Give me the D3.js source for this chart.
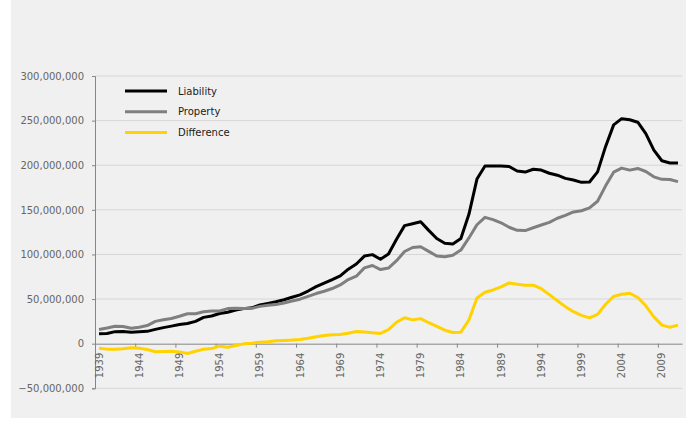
<!DOCTYPE html>
<html>
<head>
<meta charset="utf-8">
<script src="https://cdn.jsdelivr.net/npm/d3@7/dist/d3.min.js"></script>
<style>
  html, body { margin: 0; padding: 0; background: #ffffff; }
  svg { display: block; }
  text { font-family: "DejaVu Sans", Verdana, sans-serif; }
</style>
</head>
<body>
<svg id="chart" width="697" height="441"></svg>
<script>
// Annual totals, in millions
const years = d3.range(1939, 2012);

const liability = [
  11.0, 11.5, 13.5, 13.6, 12.8, 13.4, 13.8, 16.0, 18.0, 19.7,
  21.5, 22.6, 25.0, 29.5, 31.0, 33.8, 35.3, 37.8, 39.3, 40.2,
  43.5, 45.2, 47.0, 49.3, 52.0, 54.7, 59.0, 64.0, 68.0, 71.8,
  76.0, 83.5, 89.3, 98.2, 99.8, 94.6, 100.5, 117.0, 132.3, 134.5,
  136.7, 127.0, 117.8, 112.6, 111.8, 117.8, 145.0, 184.5, 199.2, 199.2,
  199.2, 198.6, 193.5, 192.3, 195.5, 194.6, 191.0, 188.8, 185.3, 183.4,
  180.8, 181.2, 192.5, 221.1, 245.2, 252.2, 251.0, 248.2, 235.5, 217.0,
  205.0, 202.5, 202.4
];

const property = [
  16.0, 17.6, 19.6, 19.2, 17.4, 18.4, 20.3, 25.0, 26.8, 28.3,
  30.7, 33.6, 33.5, 35.8, 36.5, 36.6, 39.3, 39.8, 39.5, 39.6,
  41.8, 43.0, 43.8, 45.6, 47.9, 49.9, 53.0, 56.2, 58.8, 61.8,
  65.8, 71.8, 75.6, 85.0, 87.6, 83.1, 84.8, 93.0, 103.3, 107.8,
  108.6, 103.5, 98.3, 97.5, 99.2, 104.9, 118.5, 133.3, 141.6, 139.0,
  135.5, 130.5, 127.0, 126.8, 129.9, 133.0, 136.0, 140.6, 143.8, 147.6,
  149.0, 152.2, 159.6, 176.9, 192.2, 196.8, 194.5, 196.4, 193.0, 187.0,
  184.2, 184.0, 181.6
];

const difference = [
  -5.0, -6.1, -6.1, -5.6, -4.6, -5.0, -6.5, -9.0, -8.8, -8.6,
  -9.2, -11.0, -8.5, -6.3, -5.5, -2.8, -4.0, -2.0, -0.2, 0.6,
  1.7, 2.2, 3.2, 3.7, 4.1, 4.8, 6.0, 7.8, 9.2, 10.0,
  10.2, 11.7, 13.7, 13.2, 12.2, 11.5, 15.7, 24.0, 29.0, 26.7,
  28.1, 23.5, 19.5, 15.1, 12.6, 12.9, 26.5, 51.2, 57.6, 60.2,
  63.7, 68.1, 66.5, 65.5, 65.6, 61.6, 55.0, 48.2, 41.5, 35.8,
  31.8, 29.0, 32.9, 44.2, 53.0, 55.4, 56.5, 51.8, 42.5, 30.0,
  20.8, 18.5, 20.8
];

const seriesNames = ["Liability", "Property", "Difference"];
const seriesColors = ["#000000", "#7f7f7f", "#ffd200"];
const yTicks = [-50e6, 0, 50e6, 100e6, 150e6, 200e6, 250e6, 300e6];
const xTickYears = d3.range(1939, 2012, 5);
const UNIT = 1e6;

const svg = d3.select("#chart");
const W = 697, H = 441;

// chart area background
svg.append("rect").attr("x", 11).attr("y", 0).attr("width", W - 22).attr("height", 418)
  .attr("fill", "#f0f0f0");

const plot = { left: 95, right: 682, top: 76, bottom: 388.3 };

// category edges: each year occupies one slot, points sit in the middle of it
const xEdge = d3.scaleLinear().domain([1939, 2012]).range([plot.left, plot.right]);
const xMid = yr => xEdge(yr + 0.5);
const y = d3.scaleLinear().domain([-50e6, 300e6]).range([plot.bottom, plot.top]);

// horizontal gridlines
svg.append("g")
  .selectAll("line")
  .data(yTicks.filter(t => t !== 0))
  .join("line")
  .attr("x1", plot.left).attr("x2", plot.right)
  .attr("y1", d => y(d)).attr("y2", d => y(d))
  .attr("stroke", "#d6d6d6").attr("stroke-width", 1);

// y axis
const yAxis = svg.append("g")
  .attr("transform", `translate(${plot.left},0)`)
  .call(d3.axisLeft(y).tickValues(yTicks).tickSize(3).tickPadding(8).tickFormat(d3.format(",")));
yAxis.select(".domain").attr("stroke", "#868686");
yAxis.selectAll(".tick line").attr("stroke", "#868686");
yAxis.selectAll(".tick text").attr("fill", "#666666").style("font-size", "10px");

// x axis along zero
const xAxis = svg.append("g")
  .attr("transform", `translate(0,${y(0)})`)
  .call(d3.axisBottom(xEdge).tickValues(xTickYears).tickSize(4).tickSizeOuter(0).tickFormat(""));
xAxis.select(".domain").attr("stroke", "#868686");
xAxis.selectAll(".tick line").attr("stroke", "#868686");

svg.append("g")
  .selectAll("text")
  .data(xTickYears)
  .join("text")
  .attr("transform", d => `translate(${xMid(d) + 3.5},${y(0) + 9}) rotate(-90)`)
  .attr("text-anchor", "end")
  .attr("fill", "#666666")
  .style("font-size", "10px")
  .text(d => d);

// series lines
const line = d3.line()
  .x((d, i) => xMid(years[i]))
  .y(d => y(d * UNIT));

const allSeries = [liability, property, difference];
svg.append("g")
  .selectAll("path")
  .data(allSeries)
  .join("path")
  .attr("d", d => line(d))
  .attr("fill", "none")
  .attr("stroke", (d, i) => seriesColors[i])
  .attr("stroke-width", 3)
  .attr("stroke-linejoin", "round")
  .attr("stroke-linecap", "butt");

// legend
const legend = svg.append("g").attr("transform", "translate(125,91)");
const rows = legend.selectAll("g").data(seriesNames).join("g")
  .attr("transform", (d, i) => `translate(0,${i * 20.8})`);
rows.append("line")
  .attr("x1", 0).attr("x2", 42).attr("y1", 0).attr("y2", 0)
  .attr("stroke", (d, i) => seriesColors[i]).attr("stroke-width", 3);
rows.append("text")
  .attr("x", 53).attr("y", 0).attr("dy", "0.35em")
  .attr("fill", "#1a1a1a")
  .style("font-size", "10px")
  .text(d => d);
</script>
</body>
</html>
